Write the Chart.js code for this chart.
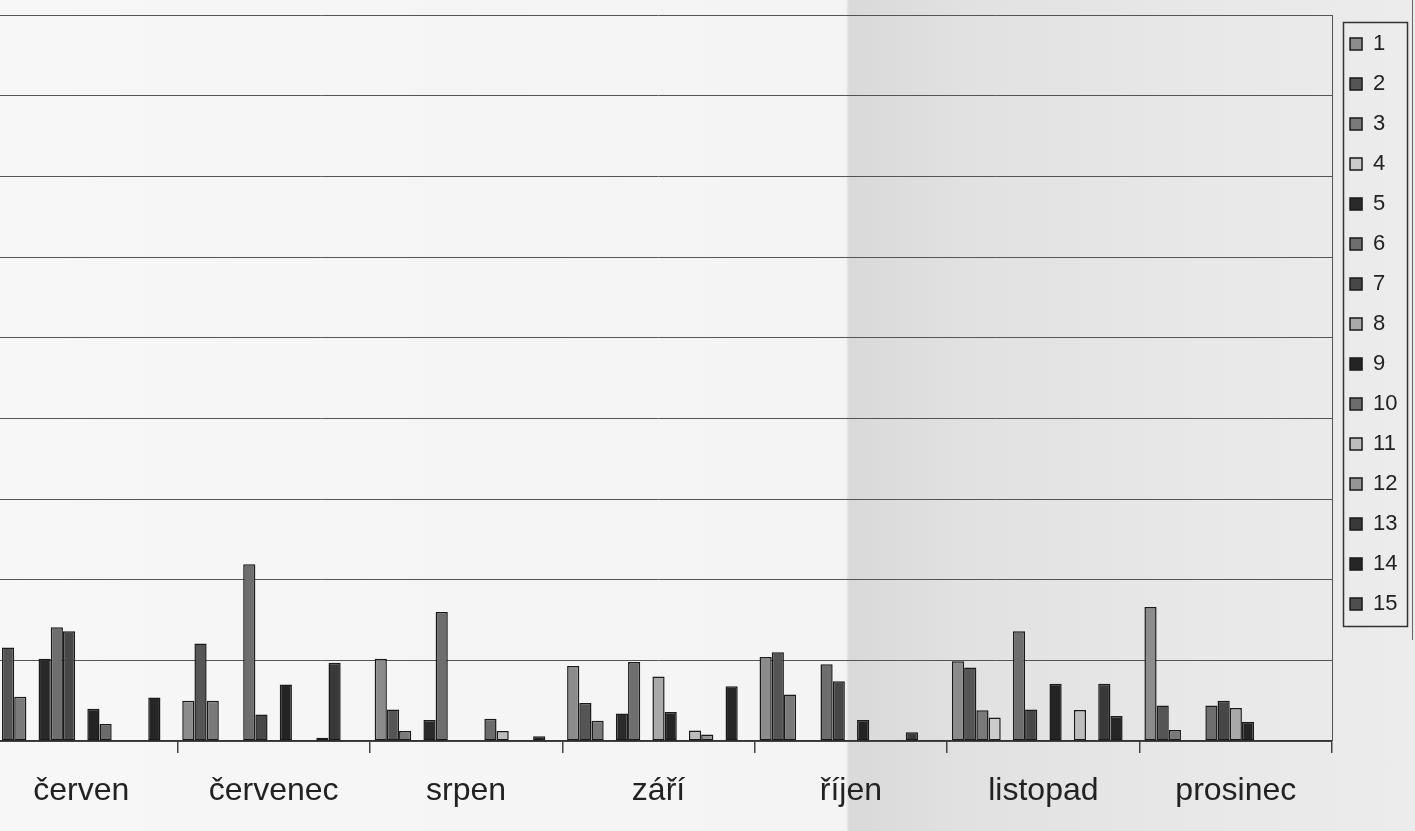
<!DOCTYPE html>
<html><head><meta charset="utf-8">
<script src="https://cdn.jsdelivr.net/npm/chart.js@4.4.1/dist/chart.umd.min.js"></script>
<style>
html,body{margin:0;padding:0;width:1415px;height:831px;overflow:hidden;}
body{position:relative;background:linear-gradient(to right,#f7f7f7 0,#f4f4f4 846px,#d9d9d9 849px,#e1e1e1 960px,#e8e8e8 1200px,#ececec 1415px);}
#c{position:absolute;left:-15px;top:0;}
</style></head><body>
<canvas id="c" width="1430" height="831"></canvas>
<script>
const months = ['červen','červenec','srpen','září','říjen','listopad','prosinec'];
const seriesNames = ['1','2','3','4','5','6','7','8','9','10','11','12','13','14','15'];
const s1  = [null, 5.0, 10.2, 9.3, 10.4, 9.9, 16.6];
const s2  = [11.6, 12.1, 3.9, 4.7, 11.0, 9.1, 4.4];
const s3  = [5.5, 5.0, 1.25, 2.5, 5.75, 3.8, 1.35];
const s4  = [null, null, null, null, null, 2.9, null];
const s5  = [10.2, null, 2.6, 3.4, null, null, null];
const s6  = [14.1, 21.9, 16.0, 9.8, 9.5, 13.6, 4.4];
const s7  = [13.6, 3.3, null, null, 7.4, 3.9, 5.0];
const s8  = [null, null, null, 8.0, null, null, 4.1];
const s9  = [4.0, 7.0, null, 3.6, 2.6, 7.1, 2.4];
const s10 = [2.1, null, 2.75, null, null, null, null];
const s11 = [null, null, 1.25, 1.3, null, 3.85, null];
const s12 = [null, 0.4, null, 0.8, null, null, null];
const s13 = [null, 9.7, null, null, 1.1, 7.1, null];
const s14 = [5.4, null, 0.6, 6.8, null, 3.1, null];
const s15 = [null, null, null, null, null, null, null];
const seriesValues = [s1,s2,s3,s4,s5,s6,s7,s8,s9,s10,s11,s12,s13,s14,s15];
const colors = ['#8c8c8c','#555555','#7a7a7a','#cbcbcb','#2a2a2a','#6e6e6e','#474747','#a9a9a9','#242424','#6c6c6c','#bdbdbd','#959595','#393939','#262626','#4e4e4e'];
const FONT = '"Liberation Sans", Arial, sans-serif';

const frame = {
  id:'frame',
  afterDraw(chart){
    const ctx = chart.ctx, a = chart.chartArea;
    ctx.save();
    ctx.strokeStyle = '#555'; ctx.lineWidth = 1;
    ctx.beginPath(); ctx.moveTo(Math.round(a.right)+0.5, a.top); ctx.lineTo(Math.round(a.right)+0.5, a.bottom); ctx.stroke();
    const hb = chart.legend.legendHitBoxes;
    if (hb && hb.length){
      let l=Infinity,r=-Infinity,t=Infinity,b=-Infinity;
      hb.forEach(h=>{l=Math.min(l,h.left);r=Math.max(r,h.left+h.width);t=Math.min(t,h.top);b=Math.max(b,h.top+h.height);});
      ctx.strokeStyle='#333'; ctx.lineWidth=1.5;
      ctx.strokeRect(Math.round(l-7)+0.5, Math.round(t-11)+0.5, Math.round(r-l+17), Math.round(b-t+22));
    }
    ctx.strokeStyle='#666'; ctx.lineWidth=1;
    ctx.beginPath(); ctx.moveTo(1427.5,0); ctx.lineTo(1427.5,640); ctx.stroke();
    ctx.restore();
  }
};

new Chart(document.getElementById('c'), {
  type:'bar',
  data:{
    labels: months,
    datasets: seriesValues.map((v,i)=>({label:seriesNames[i], data:v, backgroundColor:colors[i]}))
  },
  options:{
    responsive:false, animation:false, devicePixelRatio:1,
    layout:{padding:{top:15,right:7.5,bottom:1.6,left:0}},
    datasets:{bar:{categoryPercentage:0.95,barPercentage:1,borderColor:'#1a1a1a',borderWidth:1.5,borderSkipped:false}},
    plugins:{
      legend:{position:'right',align:'start',labels:{boxWidth:12,boxHeight:12,padding:18,color:'#222',font:{family:FONT,size:22}}},
      tooltip:{enabled:false}
    },
    scales:{
      x:{
        grid:{offset:true,drawOnChartArea:false,drawTicks:true,tickLength:12,color:'#444',lineWidth:1.5},
        border:{display:true,color:'#333',width:1.5},
        ticks:{padding:19,color:'#222',font:{family:FONT,size:32},maxRotation:0,autoSkip:false}
      },
      y:{
        min:0,max:90,
        ticks:{stepSize:10,display:false},
        grid:{color:'#555',lineWidth:1,drawTicks:false},
        border:{display:false}
      }
    }
  },
  plugins:[frame]
});
</script>
</body></html>
